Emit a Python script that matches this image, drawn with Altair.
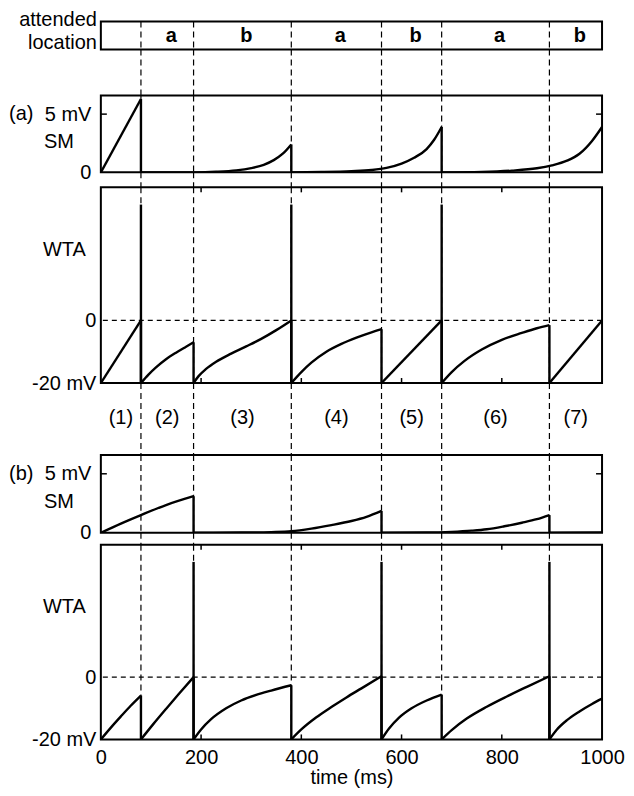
import altair as alt
import pandas as pd

W = 502
FONT = "Liberation Sans"
FS = 20

# ---------------- data ----------------
boundaries = [0, 80, 185, 380, 560, 680, 895, 1000]
attended = ["", "a", "b", "a", "b", "a", "b"]
interval_names = ["(1)", "(2)", "(3)", "(4)", "(5)", "(6)", "(7)"]
inner_ticks = [200, 400, 600, 800]
x_labels = [0, 200, 400, 600, 800, 1000]
spike_peak = 37

# (a) saliency map (SM)
a_sm_t = [
    [0, 80],
    [80, 190, 230, 270, 300, 325, 345, 363, 380],
    [380, 440, 500, 540, 570, 600, 625, 650, 665, 680],
    [680, 760, 820, 870, 900, 930, 955, 980, 1000],
]
a_sm_v = [
    [0, 6.3],
    [0, 0.0, 0.05, 0.17, 0.37, 0.65, 1.05, 1.6, 2.4],
    [0, 0.03, 0.1, 0.2, 0.38, 0.75, 1.25, 2.0, 2.8, 3.9],
    [0, 0.04, 0.15, 0.35, 0.6, 1.0, 1.6, 2.7, 3.9],
]

# (a) winner-take-all (WTA)
a_wta_t = [
    [0, 80],
    [80, 95, 110, 130, 150, 170, 185],
    [185, 195, 210, 230, 260, 290, 320, 350, 380],
    [380, 400, 420, 450, 480, 510, 540, 560],
    [560, 680],
    [680, 700, 725, 760, 800, 840, 870, 895],
    [895, 1000],
]
a_wta_v = [
    [-20, 0],
    [-20, -17.3, -15, -12.4, -10.3, -8.4, -7],
    [-20, -17.8, -15.5, -13.2, -10.6, -8.3, -5.9, -3.1, 0.0],
    [-20, -16.5, -13.5, -10, -7.5, -5.5, -3.8, -2.8],
    [-20, 0],
    [-20, -16.5, -13, -9.3, -6.2, -4, -2.5, -1.5],
    [-20, 0],
]
a_wta_spikes = [80, 380, 680]

# (b) saliency map (SM)
b_sm_t = [
    [0, 40, 80, 130, 185],
    [185, 280, 340, 380, 420, 460, 500, 530, 560],
    [560, 650, 700, 740, 770, 805, 840, 870, 895],
    [895, 1000],
]
b_sm_v = [
    [0, 0.78, 1.5, 2.35, 3.1],
    [0, 0.02, 0.06, 0.13, 0.35, 0.65, 1.0, 1.35, 1.85],
    [0, 0.02, 0.08, 0.18, 0.3, 0.55, 0.85, 1.15, 1.5],
    [0, 0.03],
]

# (b) winner-take-all (WTA)
b_wta_t = [
    [0, 20, 40, 60, 80],
    [80, 105, 130, 155, 185],
    [185, 200, 220, 250, 280, 310, 340, 380],
    [380, 400, 430, 460, 490, 520, 560],
    [560, 575, 595, 620, 650, 680],
    [680, 700, 730, 770, 810, 850, 895],
    [895, 910, 930, 955, 980, 1000],
]
b_wta_v = [
    [-20, -16.2, -12.6, -9.1, -5.9],
    [-20, -15, -10.2, -5.5, 0],
    [-20, -16.8, -13.5, -10, -7.5, -5.7, -4.3, -2.6],
    [-20, -16.8, -12.9, -9.6, -6.5, -3.6, 0.3],
    [-20, -16.5, -13, -10, -7.5, -5.6],
    [-20, -17, -13.3, -9.5, -6.2, -3.1, 0.3],
    [-20, -16.8, -13.8, -11, -8.6, -6.9],
]
b_wta_spikes = [185, 560, 895]


# ---------------- tables ----------------
def seg_table(ts, vs):
    rows = []
    for i, (tt, vv) in enumerate(zip(ts, vs)):
        for t, v in zip(tt, vv):
            rows.append({"t": t, "v": v, "seg": i})
    return pd.DataFrame(rows)


def jump_table(ts, vs, spikes=None, base=None):
    rows = []
    for i in range(len(ts) - 1):
        t = ts[i][-1]
        a, b = vs[i][-1], vs[i + 1][0]
        rows.append({"t": t, "lo": min(a, b), "hi": max(a, b)})
    if spikes:
        for t in spikes:
            rows.append({"t": t, "lo": base, "hi": spike_peak})
    return pd.DataFrame(rows)


switch_df = pd.DataFrame({"t": boundaries[1:-1]})
mid_df = pd.DataFrame({
    "t": [(boundaries[i] + boundaries[i + 1]) / 2 for i in range(len(attended))],
    "att": attended,
    "name": interval_names,
})
tick_df = pd.DataFrame({"t": inner_ticks})

XSCALE = alt.Scale(domain=[0, 1000], nice=False)
X = alt.X("t:Q", scale=XSCALE, axis=None)

DASH = dict(color="black", strokeDash=[6, 4], strokeWidth=1.2)
LINE_W = 2.4


def dashed_verticals(x=X):
    return alt.Chart(switch_df).mark_rule(**DASH).encode(x=x)


def spacer(h, extra=None):
    layers = [dashed_verticals()]
    if extra is not None:
        layers.append(extra)
    return alt.layer(*layers).properties(
        width=W, height=h, view=alt.ViewBackground(stroke="transparent")
    )


def sm_panel(ts, vs, h, tag):
    df = seg_table(ts, vs)
    jumps = jump_table(ts, vs)
    Y = alt.Y(
        "v:Q",
        scale=alt.Scale(domain=[0, 6.6], nice=False, zero=False),
        axis=alt.Axis(
            values=[0, 5], labelExpr="datum.value == 5 ? '5 mV' : '0'",
            tickSize=0, domain=False, grid=False, title=None, labelPadding=10,
        ),
    )
    line = alt.Chart(df).mark_line(
        color="black", strokeWidth=LINE_W, interpolate="monotone", clip=True
    ).encode(x=X, y=Y, detail="seg:N")
    rules = alt.Chart(jumps).mark_rule(color="black", strokeWidth=LINE_W).encode(
        x=X, y=alt.Y("lo:Q"), y2="hi:Q"
    )
    ytick_l = alt.Chart(pd.DataFrame({"v": [5]})).mark_rule(color="black", strokeWidth=1.5).encode(
        y=alt.Y("v:Q"), x=alt.value(0), x2=alt.value(6)
    )
    ytick_r = alt.Chart(pd.DataFrame({"v": [5]})).mark_rule(color="black", strokeWidth=1.5).encode(
        y=alt.Y("v:Q"), x=alt.value(W - 6), x2=alt.value(W)
    )
    lab = alt.Chart(pd.DataFrame({"v": [2.6], "s": ["SM"]})).mark_text(
        align="left", baseline="middle", font=FONT, fontSize=FS
    ).encode(y=alt.Y("v:Q"), x=alt.value(-57), text="s:N")
    tagtxt = alt.Chart(pd.DataFrame({"v": [5], "s": [tag]})).mark_text(
        align="left", baseline="middle", font=FONT, fontSize=FS
    ).encode(y=alt.Y("v:Q"), x=alt.value(-92), text="s:N")
    return alt.layer(line, dashed_verticals(), rules, ytick_l, ytick_r, lab, tagtxt).properties(
        width=W, height=h
    )


def wta_panel(ts, vs, spikes, h, bottom_axis=False):
    df = seg_table(ts, vs)
    jumps = jump_table(ts, vs, spikes, -20)
    if bottom_axis:
        Xa = alt.X(
            "t:Q", scale=XSCALE,
            axis=alt.Axis(
                values=x_labels, format="d", tickSize=0, domain=False, grid=False,
                labelPadding=8, title="time (ms)", titlePadding=0,
                titleFontWeight="normal", labelFlush=False,
            ),
        )
    else:
        Xa = X
    Y = alt.Y(
        "v:Q",
        scale=alt.Scale(domain=[-20, 42.5], nice=False, zero=False),
        axis=alt.Axis(
            values=[-20, 0], labelExpr="datum.value == -20 ? '-20 mV' : '0'",
            tickSize=0, domain=False, grid=False, title=None, labelPadding=5,
        ),
    )
    zero = alt.Chart(pd.DataFrame({"v": [0]})).mark_rule(
        color="black", strokeDash=[5, 4], strokeWidth=1.1
    ).encode(y=alt.Y("v:Q"))
    line = alt.Chart(df).mark_line(
        color="black", strokeWidth=LINE_W, interpolate="monotone", clip=True
    ).encode(x=Xa, y=Y, detail="seg:N")
    rules = alt.Chart(jumps).mark_rule(color="black", strokeWidth=LINE_W).encode(
        x=Xa, y=alt.Y("lo:Q"), y2="hi:Q"
    )
    tk_top = alt.Chart(tick_df).mark_rule(color="black", strokeWidth=1.5).encode(
        x=Xa, y=alt.value(0), y2=alt.value(5)
    )
    tk_bot = alt.Chart(tick_df).mark_rule(color="black", strokeWidth=1.5).encode(
        x=Xa, y=alt.value(h - 5), y2=alt.value(h)
    )
    lab = alt.Chart(pd.DataFrame({"v": [22.5], "s": ["WTA"]})).mark_text(
        align="left", baseline="middle", font=FONT, fontSize=FS
    ).encode(y=alt.Y("v:Q"), x=alt.value(-58), text="s:N")
    return alt.layer(line, dashed_verticals(Xa), zero, rules, tk_top, tk_bot, lab).properties(
        width=W, height=h
    )


# top "attended location" box
box_text = alt.Chart(mid_df).mark_text(
    font=FONT, fontSize=FS, fontWeight="bold", baseline="middle", dx=4
).encode(x=X, y=alt.value(14), text="att:N")
box_label = alt.Chart(pd.DataFrame({"s": ["attended\nlocation"]})).mark_text(
    font=FONT, fontSize=FS, align="right", baseline="middle", lineBreak="\n", lineHeight=23
).encode(x=alt.value(-4), y=alt.value(-2), text="s:N")
top_box = alt.layer(dashed_verticals(), box_text, box_label).properties(width=W, height=28)

interval_text = alt.Chart(mid_df).mark_text(
    font=FONT, fontSize=FS, baseline="middle"
).encode(x=X, y=alt.value(35), text="name:N")

chart = alt.vconcat(
    top_box,
    spacer(46),
    sm_panel(a_sm_t, a_sm_v, 77, "(a)"),
    spacer(15),
    wta_panel(a_wta_t, a_wta_v, a_wta_spikes, 196),
    spacer(72, interval_text),
    sm_panel(b_sm_t, b_sm_v, 78, "(b)"),
    spacer(12),
    wta_panel(b_wta_t, b_wta_v, b_wta_spikes, 195, bottom_axis=True),
    spacing=0,
    bounds="flush",
).properties(
    padding={"left": 0, "top": 0, "right": 0, "bottom": 0},
    background="white",
).configure_view(
    stroke="black", strokeWidth=2
).configure_axis(
    labelFont=FONT, labelFontSize=FS, titleFont=FONT, titleFontSize=FS,
    labelColor="black", titleColor="black",
)

chart.save("out.html", embed_options={"renderer": "svg", "actions": False})
